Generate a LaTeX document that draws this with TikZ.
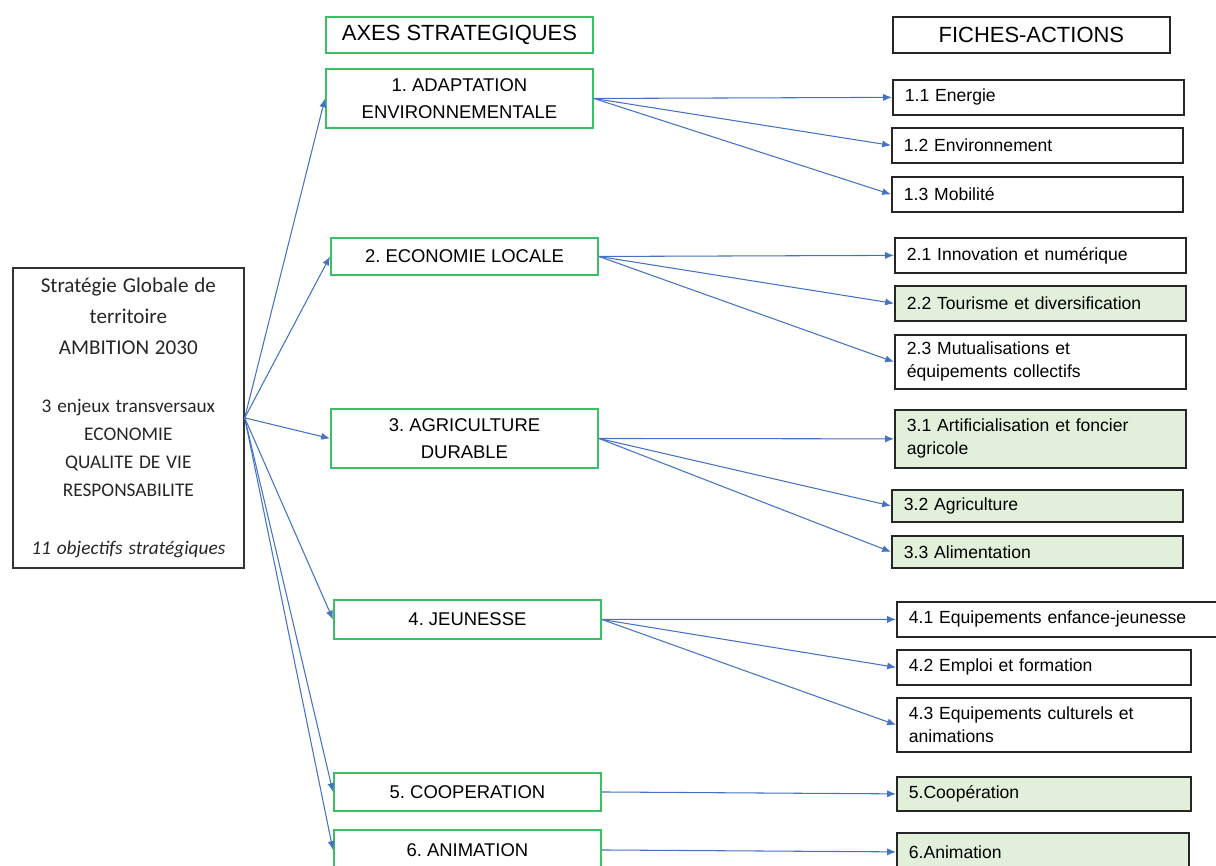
\documentclass[tikz,border=0pt]{standalone}
\usepackage{fontspec}
\setmainfont{Liberation Sans}
\newfontfamily\leftfont{Carlito}
\usetikzlibrary{positioning,arrows.meta}
\definecolor{axegreen}{RGB}{60,190,100}
\definecolor{fichegreen}{RGB}{226,239,218}
\definecolor{linkblue}{RGB}{68,114,196}
\frenchspacing
\tikzset{
  % Specifications for style of nodes:
  base/.style = {
    rectangle,
    anchor=north west,
    inner sep=0pt
  },
  axe/.style = {
    base,
    draw=axegreen,
    line width=1.1pt,
    minimum width=5.34cm,
    align=center,
    font=\fontsize{10.5}{15.3}\selectfont
  },
  fiche/.style = {
    base,
    draw=black!85,
    line width=1pt,
    fill=white,
    minimum width=5.82cm,
    minimum height=0.70cm,
    inner xsep=0.24cm,
    text width=5.34cm,
    align=left,
    font=\fontsize{10}{13}\selectfont
  },
  ficheverte/.style = {
    fiche,
    fill=fichegreen
  },
  titre/.style = {
    minimum height=0.72cm,
    font=\fontsize{12.5}{14}\selectfont
  },
  link/.style = {
    draw=linkblue,
    line width=0.6pt,
    -{Latex[length=5pt,width=4pt]}
  },
}

\begin{document}
\begin{tikzpicture}[x=0.02cm, y=-0.02cm]
    \clip (0,0) rectangle (1216,865);
    % Specification of nodes (position, etc.)
    \node[base, draw=black!80, line width=1pt, minimum width=4.62cm, minimum height=6cm,
          text width=4.62cm, align=center, text=black!85, font=\leftfont] at (12,267) (strategie) {%
      {\fontsize{12}{17.6}\selectfont Stratégie Globale de\\ territoire\\ AMBITION 2030\par}
      \vspace{17pt}
      {\fontsize{11}{15.9}\selectfont 3 enjeux transversaux\\ ECONOMIE\\ QUALITE DE VIE\\ RESPONSABILITE\par}
      \vspace{21pt}
      {\fontsize{11}{12}\selectfont\itshape 11 objectifs stratégiques\par}};
    \node[axe, titre]                                            at (325,16)  (axesTitre)   {AXES STRATEGIQUES};
    \node[fiche, titre, minimum width=5.54cm, text width=5.06cm, align=center]
                                                                 at (892,16)  (fichesTitre) {FICHES-ACTIONS};
    \node[axe, minimum height=1.18cm] at (325,68)  (axe1) {1. ADAPTATION\\ ENVIRONNEMENTALE};
    \node[axe, minimum height=0.74cm] at (330,237) (axe2) {2. ECONOMIE LOCALE};
    \node[axe, minimum height=1.18cm] at (330,408) (axe3) {3. AGRICULTURE\\ DURABLE};
    \node[axe, minimum height=0.78cm] at (333,599) (axe4) {4. JEUNESSE};
    \node[axe, minimum height=0.76cm] at (333,772) (axe5) {5. COOPERATION};
    \node[axe, minimum height=0.80cm] at (333,829) (axe6) {6. ANIMATION};
    \node[fiche]                                         at (892,79)  (fiche11) {1.1 Energie};
    \node[fiche]                                         at (891,127) (fiche12) {1.2 Environnement};
    \node[fiche]                                         at (891,176) (fiche13) {1.3 Mobilité};
    \node[fiche]                                         at (894,237) (fiche21) {2.1 Innovation et numérique};
    \node[ficheverte]                                    at (894,285) (fiche22) {2.2 Tourisme et diversification};
    \node[fiche, minimum height=1.08cm]                  at (894,334) (fiche23) {2.3 Mutualisations et\\ équipements collectifs};
    \node[ficheverte, minimum height=1.16cm]             at (894,409) (fiche31) {3.1 Artificialisation et foncier\\ agricole};
    \node[ficheverte, minimum height=0.64cm]             at (891,489) (fiche32) {3.2 Agriculture};
    \node[ficheverte, minimum height=0.64cm]             at (891,535) (fiche33) {3.3 Alimentation};
    \node[fiche, minimum width=6.6cm, text width=6.12cm] at (896,601) (fiche41) {4.1 Equipements enfance-jeunesse};
    \node[fiche, minimum width=5.88cm, text width=5.4cm] at (896,649) (fiche42) {4.2 Emploi et formation};
    \node[fiche, minimum width=5.88cm, text width=5.4cm, minimum height=1.08cm]
                                                         at (896,697) (fiche43) {4.3 Equipements culturels et\\ animations};
    \node[ficheverte, minimum width=5.88cm, text width=5.4cm, minimum height=0.68cm]
                                                         at (896,776) (fiche5)  {5.Coopération};
    \node[ficheverte, minimum width=5.84cm, text width=5.36cm, minimum height=0.76cm]
                                                         at (896,832) (fiche6)  {6.Animation};
    % Connectors
    \foreach \i in {1,...,6}
      \draw[link] (strategie.east) -- (axe\i.west);
    \foreach \a/\f in {1/11,1/12,1/13,2/21,2/22,2/23,3/31,3/32,3/33,4/41,4/42,4/43,5/5,6/6}
      \draw[link] (axe\a.east) -- (fiche\f.west);
\end{tikzpicture}
\end{document}
